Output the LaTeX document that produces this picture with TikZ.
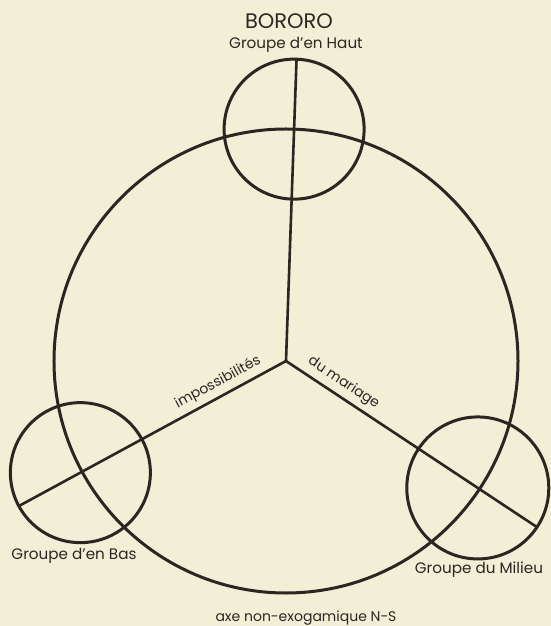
\documentclass[tikz,border=0pt]{standalone}
\usepackage{fontspec}
\setmainfont{Poppins}
\usetikzlibrary{positioning}
\definecolor{paper}{HTML}{F3EED6}
\definecolor{ink}{HTML}{2A2622}

\begin{document}
\begin{tikzpicture}[x=0.5pt, y=0.5pt,
    ring/.style={draw=ink, line width=1.5pt},
    spoke/.style={draw=ink, line width=1.3pt},
    grouplabel/.style={font=\fontsize{7.6}{9}\selectfont, text=ink, inner sep=0pt},
    axislabel/.style={font=\fontsize{7}{8}\selectfont, text=ink, inner sep=0pt}]
  % background and page size
  \fill[paper] (-286,-265) rectangle (265,361);
  \useasboundingbox (-286,-265) rectangle (265,361);

  % hub, group centres, spoke ends
  \coordinate (hub) at (0,0);
  \coordinate (haut) at (88:232);
  \coordinate (bas) at (208.5:234);
  \coordinate (milieu) at (326.5:230);
  \coordinate (hautend) at (88:302);
  \coordinate (basend) at (208.5:305);
  \coordinate (milieuend) at (326.5:300);

  % circles
  \draw[ring] (hub) circle (232);
  \draw[ring] (haut) circle (70);
  \draw[ring] (bas) circle (70);
  \draw[ring] (milieu) circle (71);

  % spokes
  \draw[spoke] (hub) -- (hautend);
  \draw[spoke] (hub) -- (basend)
    node[axislabel, pos=0.23, sloped, above=2.5pt] (impos) {impossibilités};
  \draw[spoke] (hub) -- (milieuend)
    node[axislabel, pos=0.2, sloped, above=2.5pt] (mariage) {du mariage};

  % labels
  \node[font=\fontsize{10.5}{12}\selectfont, text=ink, inner sep=0pt] (title) at (3,340) {BORORO};
  \node[grouplabel] (hautlbl) at (10,316) {Groupe d'en Haut};
  \node[grouplabel] (baslbl) at (-212,-195) {Groupe d'en Bas};
  \node[grouplabel] (milieulbl) at (193,-209) {Groupe du Milieu};
  \node[axislabel] (axe) at (20,-257) {axe non-exogamique N-S};
\end{tikzpicture}
\end{document}
